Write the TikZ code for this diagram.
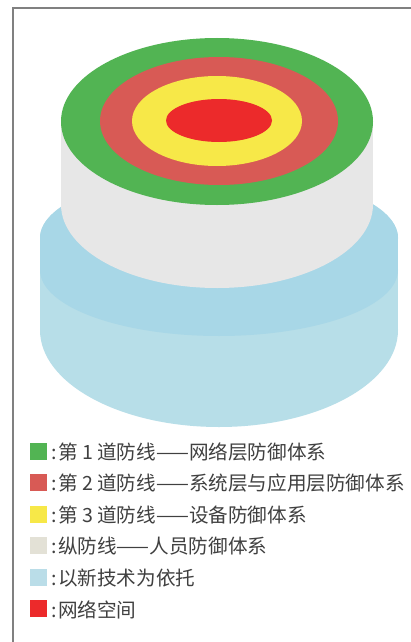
\documentclass[tikz,border=0pt]{standalone}
\usepackage{fontspec}
\newfontfamily\cjk{Noto Sans CJK SC}
\definecolor{cGreen}{HTML}{52B453}
\definecolor{cRing}{HTML}{D85A55}
\definecolor{cYellow}{HTML}{F7E848}
\definecolor{cCore}{HTML}{EC2A2B}
\definecolor{cWhite}{HTML}{E7E7E7}
\definecolor{cBlue}{HTML}{B7DEE8}
\definecolor{cBlueDark}{HTML}{A8D7E7}
\definecolor{cBeige}{HTML}{E3E1D6}
\definecolor{cLegBlue}{HTML}{BADDE8}
\definecolor{cText}{HTML}{404040}
\definecolor{cFrame}{HTML}{808080}
\tikzset{
  swatch/.style={minimum width=17pt, minimum height=17pt, inner sep=0pt, draw=none},
  legtext/.style={anchor=west, inner sep=0pt, font=\cjk\fontsize{19.6pt}{21pt}\selectfont, text=cText},
}
\begin{document}
\begin{tikzpicture}[x=1pt,y=-1pt]
\useasboundingbox (0,0) rectangle (411,642);
\fill[white] (0,0) rectangle (411,642);
% frame
\draw[cFrame, line width=1.2pt] (13,642) -- (13,8) -- (411,8);
% blue base cylinder
\fill[cBlue] (219,330) ellipse [x radius=179pt, y radius=97pt];
\fill[cBlue] (40,238) rectangle (398,330);
\fill[cBlue] (219,238) ellipse [x radius=179pt, y radius=66pt];
% darker upper band
\fill[cBlueDark] (219,238) ellipse [x radius=179pt, y radius=66pt];
\fill[cBlueDark] (40,238) rectangle (398,270);
\fill[cBlueDark] (219,270) ellipse [x radius=179pt, y radius=66pt];
% white cylinder
\fill[cWhite] (217,204.5) ellipse [x radius=156pt, y radius=83.5pt];
\fill[cWhite] (61,121.5) rectangle (373,204.5);
% top rings
\fill[cGreen] (217,121.5) ellipse [x radius=156pt, y radius=83.5pt];
\fill[cRing] (219,121) ellipse [x radius=119pt, y radius=64pt];
\fill[cYellow] (217,121) ellipse [x radius=85pt, y radius=45pt];
\fill[cCore] (219,120.5) ellipse [x radius=53pt, y radius=21.5pt];
% legend
\node[swatch, fill=cGreen] (s1) at (38.5,451) {};
\node[swatch, fill=cRing] (s2) at (38.5,482.5) {};
\node[swatch, fill=cYellow] (s3) at (38.5,514) {};
\node[swatch, fill=cBeige] (s4) at (38.5,545.5) {};
\node[swatch, fill=cLegBlue] (s5) at (38.5,577) {};
\node[swatch, fill=cCore] (s6) at (38.5,608.5) {};
\node[legtext] (t1) at (51,452) {:\kern1.5pt 第 1 道防线——网络层防御体系};
\node[legtext] (t2) at (51,483.5) {:\kern1.5pt 第 2 道防线——系统层与应用层防御体系};
\node[legtext] (t3) at (51,515) {:\kern1.5pt 第 3 道防线——设备防御体系};
\node[legtext] (t4) at (51,546.5) {:\kern1.5pt 纵防线——人员防御体系};
\node[legtext] (t5) at (51,578) {:\kern1.5pt 以新技术为依托};
\node[legtext] (t6) at (51,609.5) {:\kern1.5pt 网络空间};
\end{tikzpicture}
\end{document}
